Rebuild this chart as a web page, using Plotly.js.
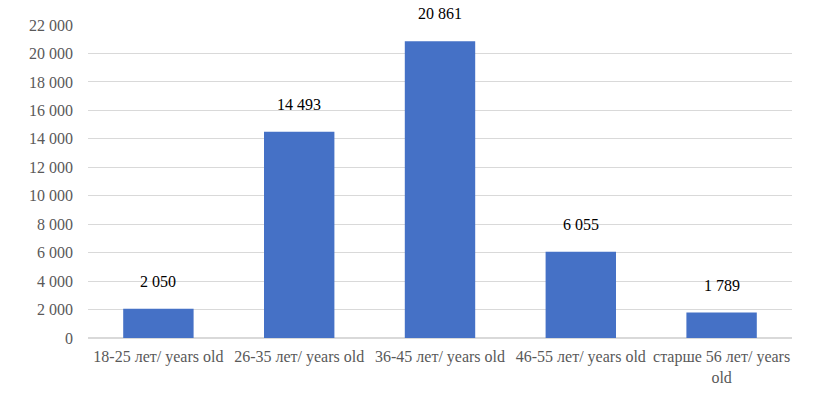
<!DOCTYPE html>
<html><head><meta charset="utf-8">
<script src="https://cdn.plot.ly/plotly-3.0.1.min.js"></script>
<style>
html,body{margin:0;padding:0;background:#fff}
#chart svg text{font-family:"Liberation Serif","Times New Roman",serif !important;}
</style>
</head><body><div id="chart" style="width:819px;height:402px"></div>
<script>
const categories = ["18-25 лет/ years old","26-35 лет/ years old","36-45 лет/ years old","46-55 лет/ years old","старше 56 лет/ years<br>old"];
const values = [2050, 14493, 20861, 6055, 1789];
const yTicks = [0,2000,4000,6000,8000,10000,12000,14000,16000,18000,20000,22000];

function fmt(v){ return String(v).replace(/\B(?=(\d{3})+(?!\d))/g, " "); }

const trace = {
  type: "bar", x: categories, y: values,
  marker: {color: "#4571C6", line: {width: 0}},
  width: 0.5, hoverinfo: "none"
};
const annotations = categories.map((c,i)=>({
  x: c, y: values[i], text: fmt(values[i]), showarrow: false,
  yanchor: "bottom", yshift: 17,
  font: {family: "Liberation Serif", size: 16, color: "#000"}
}));
const layout = {
  width: 819, height: 402,
  margin: {l: 88, r: 27, t: 25, b: 64},
  paper_bgcolor: "#fff", plot_bgcolor: "#fff",
  showlegend: false, bargap: 0.5,
  font: {family: "Liberation Serif", size: 16, color: "#595959"},
  xaxis: {showgrid: false, showline: false, zeroline: false, ticks: "", ticklabelstandoff: 7,
          tickfont: {family: "Liberation Serif", size: 16, color: "#595959"}},
  yaxis: {range: [0, 22000], tickvals: yTicks, ticktext: yTicks.map(fmt), showgrid: true,
          gridcolor: "#d9d9d9", gridwidth: 1, zeroline: true, zerolinecolor: "#d9d9d9", zerolinewidth: 2,
          showline: false, ticks: "", ticklabelstandoff: 14,
          tickfont: {family: "Liberation Serif", size: 16, color: "#595959"}},
  annotations: annotations
};
Plotly.newPlot("chart", [trace], layout, {displayModeBar: false});
</script></body></html>
